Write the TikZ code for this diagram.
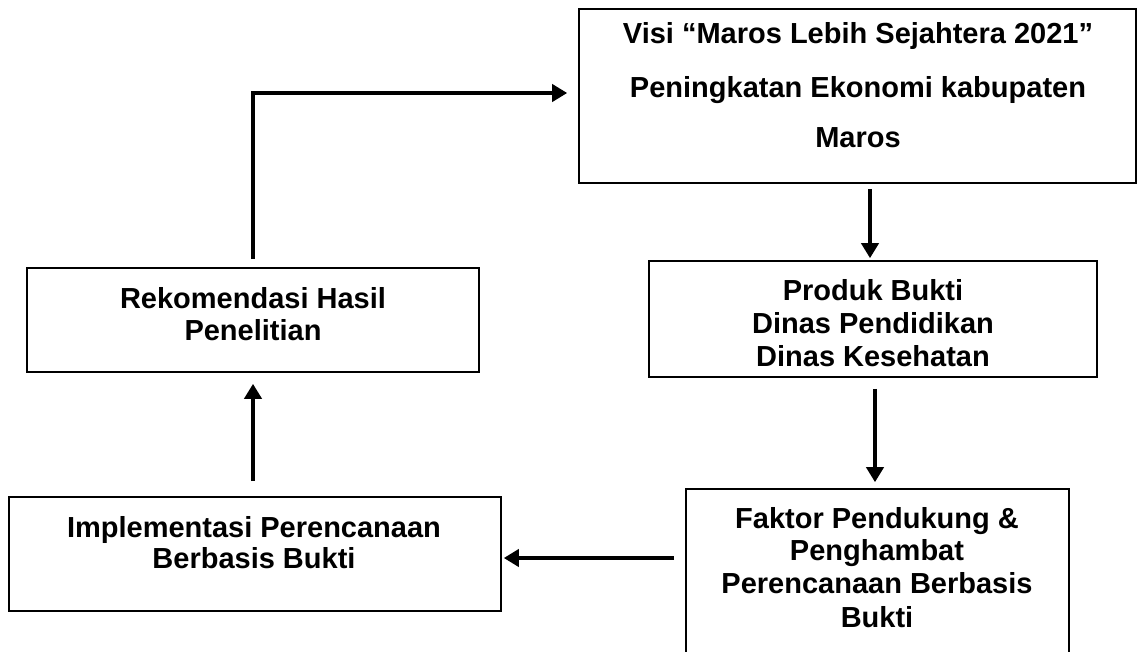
\documentclass[tikz,border=0pt]{standalone}
\usepackage{fontspec}
\setmainfont{Liberation Sans}
\usetikzlibrary{arrows.meta}
\begin{document}
\begin{tikzpicture}[x=1pt,y=-1pt,
  box/.style={draw=black,line width=1.6pt,rectangle,inner sep=0pt},
  txt/.style={anchor=base,inner sep=0pt,font=\fontsize{29}{33}\selectfont\bfseries},
  arr/.style={line width=4pt,-{Triangle[length=15pt,width=17pt]}}]
\clip (0,0) rectangle (1138,651);
\fill[white] (0,0) rectangle (1138,651);
% boxes
\node[box,minimum width=557pt,minimum height=174pt] (visi) at (857.5,96) {};
\node[box,minimum width=448pt,minimum height=116pt] (prod) at (873,319) {};
\node[box,minimum width=383pt,minimum height=211pt] (fak) at (877.5,594.5) {};
\node[box,minimum width=492pt,minimum height=114pt] (impl) at (255,554) {};
\node[box,minimum width=452pt,minimum height=104pt] (rek) at (253,320) {};
% texts
\node[txt] (visi1) at (858,43) {Visi “Maros Lebih Sejahtera 2021”};
\node[txt] (visi2) at (858,97) {Peningkatan Ekonomi kabupaten};
\node[txt] (visi3) at (858,147) {Maros};
\node[txt] (prod1) at (873,300) {Produk Bukti};
\node[txt] (prod2) at (873,333) {Dinas Pendidikan};
\node[txt] (prod3) at (873,366) {Dinas Kesehatan};
\node[txt] (fak1) at (877,528) {Faktor Pendukung \&};
\node[txt] (fak2) at (877,560) {Penghambat};
\node[txt] (fak3) at (877,593) {Perencanaan Berbasis};
\node[txt] (fak4) at (877,627) {Bukti};
\node[txt] (impl1) at (254,537) {Implementasi Perencanaan};
\node[txt] (impl2) at (254,568) {Berbasis Bukti};
\node[txt] (rek1) at (253,308) {Rekomendasi Hasil};
\node[txt] (rek2) at (253,340) {Penelitian};
% connectors
\draw[arr] ([yshift=8pt]rek.north) |- ([xshift=-11pt,yshift=3pt]visi.west);
\draw[arr] ([xshift=-3pt,yshift=-5pt]visi.south -| prod.north) -- ([xshift=-3pt,yshift=2pt]prod.north);
\draw[arr] ([xshift=-2.5pt,yshift=-11pt]fak.north |- prod.south) -- ([xshift=-2.5pt,yshift=6pt]fak.north);
\draw[arr] ([xshift=-11pt,yshift=-4pt]fak.west |- impl.east) -- ([xshift=2pt,yshift=-4pt]impl.east);
\draw[arr] ([yshift=15pt]impl.north -| rek.south) -- ([yshift=-11pt]rek.south);
\end{tikzpicture}
\end{document}
